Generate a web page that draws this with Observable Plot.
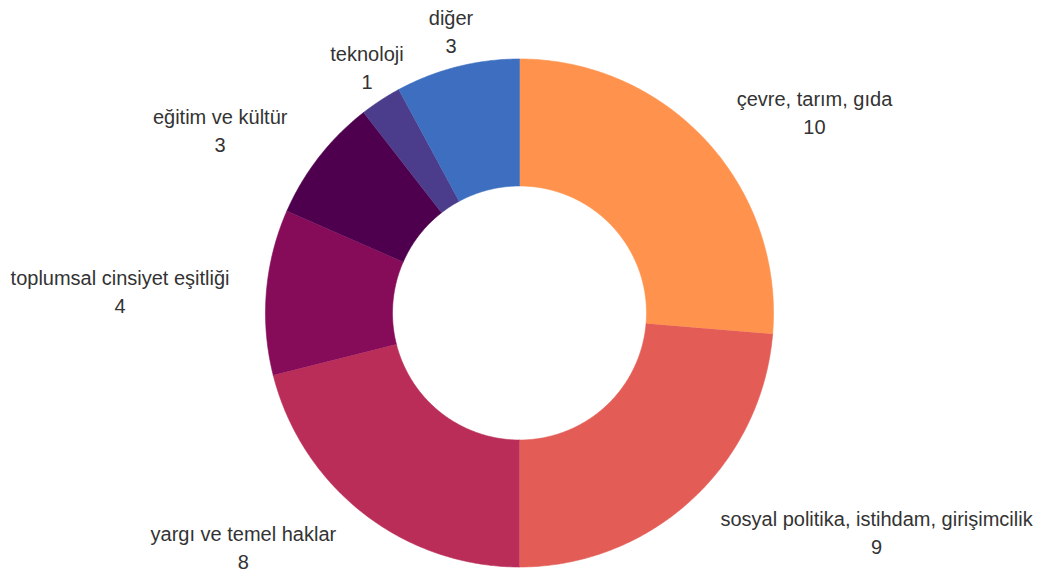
<!DOCTYPE html>
<html><head><meta charset="utf-8">
<script src="https://cdn.jsdelivr.net/npm/d3@7"></script>
<script src="https://cdn.jsdelivr.net/npm/@observablehq/plot@0.6"></script>
<style>html,body{margin:0;padding:0;background:#fff}#chart{width:1037px;height:575px}</style>
</head><body><div id="chart"></div>
<script>
// ---- data ----
const categories = ["çevre, tarım, gıda","sosyal politika, istihdam, girişimcilik","yargı ve temel haklar","toplumsal cinsiyet eşitliği","eğitim ve kültür","teknoloji","diğer"];
const values = [10, 9, 8, 4, 3, 1, 3];
const colors = ["#FF924C","#E35D56","#B92D58","#860B59","#4E004E","#4B3C8C","#3D6EC0"];

// ---- layout ----
const W = 1037, H = 575, CX = 519, CY = 312.5, R = 254, INNER = 0.5;
const FONT_SIZE = 20, FONT = "'Liberation Sans', Arial, sans-serif";
const total = d3.sum(values);
const ctx = document.createElement("canvas").getContext("2d");
ctx.font = `${FONT_SIZE}px 'Liberation Sans'`;

const slicePts = [];
const labels = [];
let acc = 0;
categories.forEach((c, i) => {
  const a0 = acc / total * 2 * Math.PI; acc += values[i]; const a1 = acc / total * 2 * Math.PI;
  const n = Math.max(2, Math.ceil((a1 - a0) / (Math.PI / 360)));
  for (let k = 0; k <= n; k++) { const a = a0 + (a1 - a0) * k / n; slicePts.push({cat: c, x: Math.sin(a), y: Math.cos(a)}); }
  for (let k = n; k >= 0; k--) { const a = a0 + (a1 - a0) * k / n; slicePts.push({cat: c, x: INNER * Math.sin(a), y: INNER * Math.cos(a)}); }
  const am = (a0 + a1) / 2, s = Math.sin(am), co = Math.cos(am);
  const w = Math.max(ctx.measureText(c).width, ctx.measureText(String(values[i])).width);
  const ax = Math.abs(s) > 0.58 ? Math.sign(s) : 0;
  const ay = Math.abs(co) > 0.38 ? Math.sign(co) : 0;
  const rl = 1.098;
  labels.push({text: c + "\n" + values[i], x: rl * s + ax * (w / 2 + 12) / R, y: rl * co + ay * 13 / R});
});

const plot = Plot.plot({
  width: W, height: H, margin: 0,
  x: {domain: [-CX / R, (W - CX) / R], range: [0, W], axis: null},
  y: {domain: [-(H - CY) / R, CY / R], range: [H, 0], axis: null},
  color: {domain: categories, range: colors},
  style: {fontFamily: FONT, background: "#fff"},
  marks: [
    Plot.line(slicePts, {x: "x", y: "y", z: "cat", fill: "cat", stroke: "cat", strokeWidth: 0.6}),
    Plot.text(labels, {x: "x", y: "y", text: "text", fontSize: FONT_SIZE, lineHeight: 1.4, lineAnchor: "middle", textAnchor: "middle", fill: "#333"})
  ]
});
document.getElementById("chart").appendChild(plot);
</script>
</body></html>
